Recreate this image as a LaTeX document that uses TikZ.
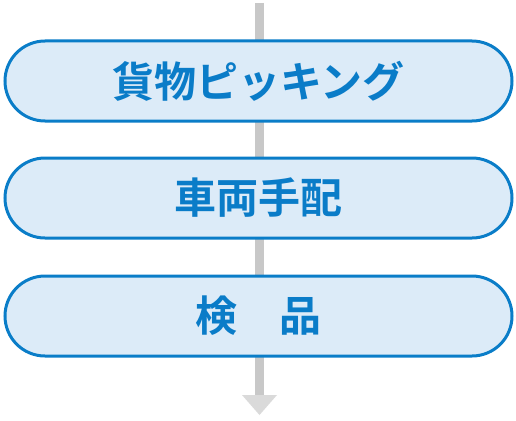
\documentclass[tikz,border=0pt]{standalone}
\usepackage{fontspec}
\setmainfont{Noto Sans CJK JP}[BoldFont={Noto Sans CJK JP Bold}]
\usetikzlibrary{arrows.meta}
\definecolor{boxblue}{HTML}{0A7DC8}
\definecolor{boxfill}{HTML}{DCEBF8}
\definecolor{textblue}{HTML}{0A7CC8}
\definecolor{linegray}{HTML}{C8C8C8}
\definecolor{tipgray}{HTML}{DADADA}
\begin{document}
\begin{tikzpicture}[x=1pt,y=-1pt,
  stepbox/.style={draw=boxblue, line width=3pt, fill=boxfill, rounded corners=40pt,
    minimum width=507pt, minimum height=80pt, inner sep=0pt,
    font=\fontsize{42}{46}\selectfont\bfseries, text=textblue}]
\useasboundingbox (0,0) rectangle (516,420);
\coordinate (top) at (259.5,3);
\coordinate (bot) at (259.5,395);
\draw[linegray, line width=9pt] (top) -- (bot);
\fill[tipgray] (242,395) -- (277,395) -- (259.5,415) -- cycle;
\node[stepbox] (a) at (258.5,81) {貨物ピッキング};
\node[stepbox] (b) at (258.5,198) {車両手配};
\node[stepbox] (c) at (258.5,316) {検　品};
\end{tikzpicture}
\end{document}
